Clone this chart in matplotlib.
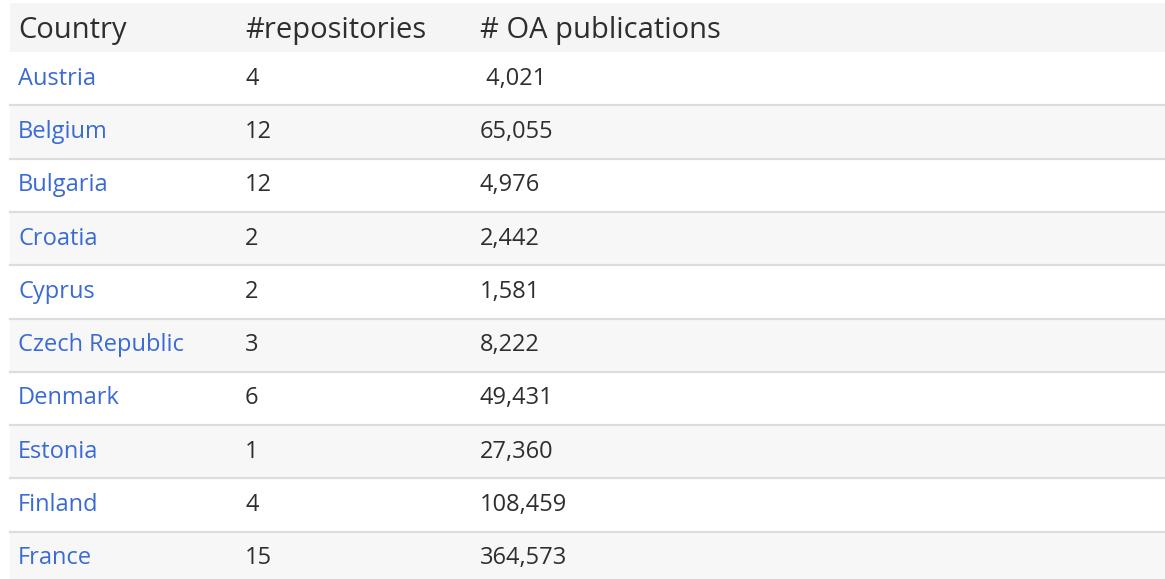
import matplotlib.pyplot as plt
from matplotlib.patches import Rectangle

# table content
headers = ["Country", "#repositories", "# OA publications"]
countries = ["Austria", "Belgium", "Bulgaria", "Croatia", "Cyprus",
             "Czech Republic", "Denmark", "Estonia", "Finland", "France"]
repositories = [4, 12, 12, 2, 2, 3, 6, 1, 4, 15]
oa_publications = [4021, 65055, 4976, 2442, 1581, 8222, 49431, 27360, 108459, 364573]

W, H = 1165, 579
fig = plt.figure(figsize=(W / 100, H / 100), dpi=100)
ax = fig.add_axes([0, 0, 1, 1])
ax.set_xlim(0, W)
ax.set_ylim(H, 0)
ax.axis("off")

plt.rcParams['font.family'] = ['Open Sans', 'DejaVu Sans']

left = 10
col_x = [18, 245, 480]
header_top, header_bot = 3, 52
row_h = 53.3
text_color = "#2e2e2e"
link_color = "#3a6bd4"
line_color = "#dddddd"

# header
ax.add_patch(Rectangle((left, header_top), W - left, header_bot - header_top,
                       facecolor="#f5f5f5", edgecolor="none"))
for x, h in zip(col_x, headers):
    ax.text(x, (header_top + header_bot) / 2 + 3, h, fontsize=21, color=text_color,
            va="center", ha="left")

# rows
for i, (c, r, p) in enumerate(zip(countries, repositories, oa_publications)):
    top = header_bot + i * row_h
    if i % 2 == 1:
        ax.add_patch(Rectangle((left, top), W - left, row_h,
                               facecolor="#f7f7f7", edgecolor="none"))
    if i > 0:
        ax.plot([left, W], [top, top], color=line_color, lw=1.6)
    cy = top + row_h / 2
    ax.text(col_x[0], cy, c, fontsize=17, color=link_color, va="center", ha="left")
    ax.text(col_x[1], cy, str(r), fontsize=17, color=text_color, va="center", ha="left")
    ax.text(col_x[2], cy, ("{:,}" if i else " {:,}").format(p), fontsize=17,
            color=text_color, va="center", ha="left")

fig.savefig("out.png", dpi=100)
